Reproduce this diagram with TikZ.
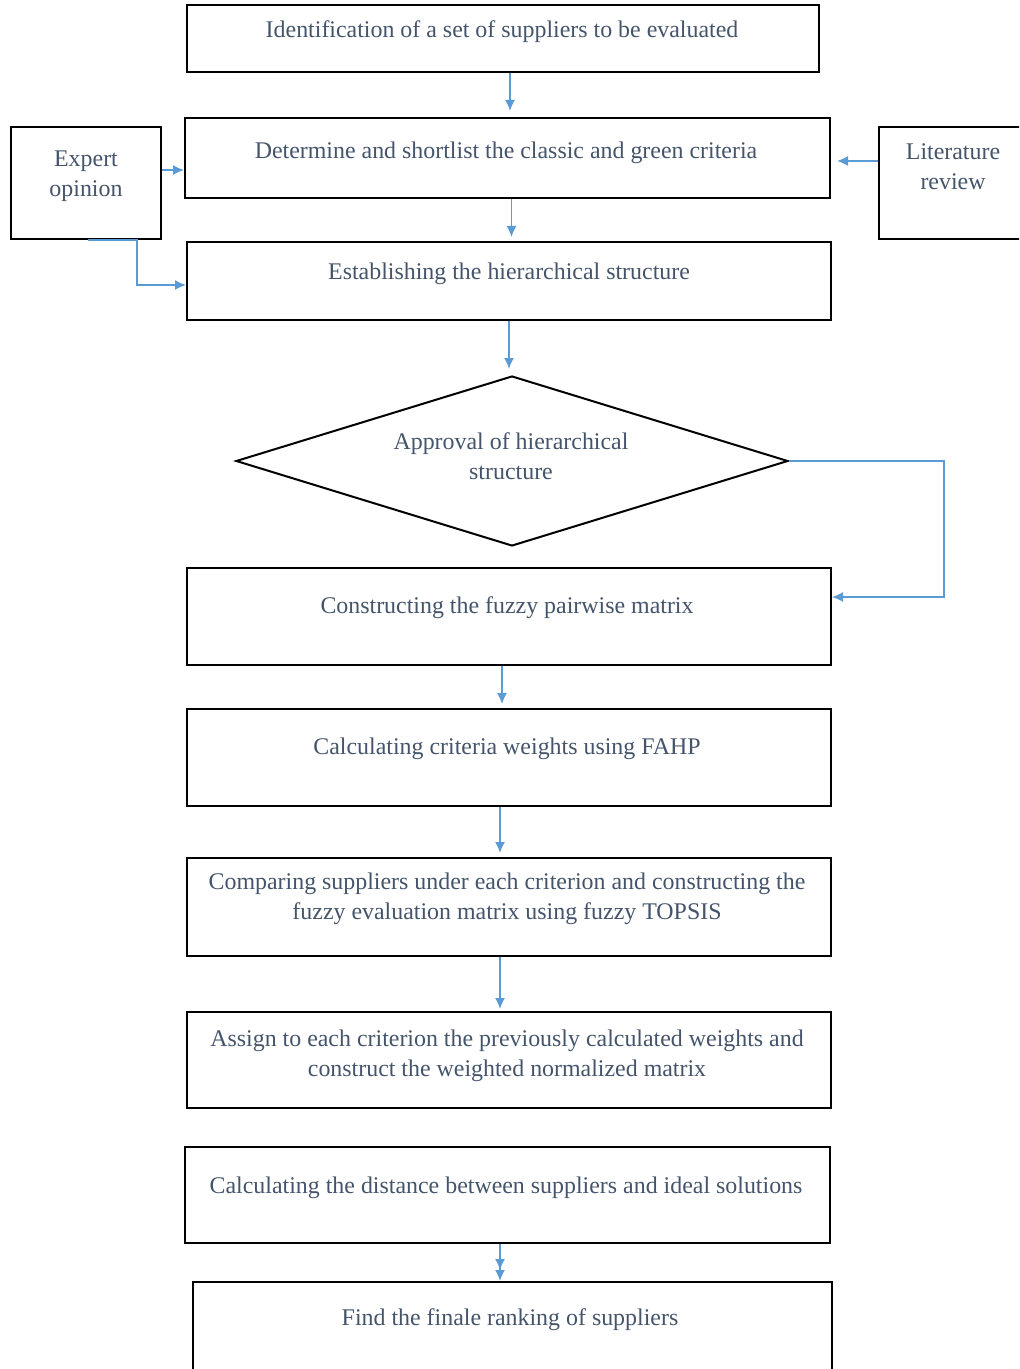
\documentclass[tikz,border=0pt]{standalone}
\usepackage{tikz}
\usepackage{fontspec}
\setmainfont{Liberation Serif}
\usetikzlibrary{arrows.meta, shapes.geometric, calc}

\definecolor{txtblue}{HTML}{44546A}
\definecolor{lineblue}{HTML}{5B9BD5}

\tikzset{
  box/.style={draw=black, line width=1pt, inner sep=0pt},
  txt/.style={text=txtblue, align=center, inner sep=0pt, font=\fontsize{11.95}{15}\selectfont},
  flow/.style={lineblue, line width=0.8pt, ->}
}

\begin{document}
\begin{tikzpicture}[x=0.5pt, y=-0.5pt, >={Latex[length=5.5pt,width=5pt]}]

\clip (0,0) rectangle (1019,1369);

% boxes
\node[box, minimum width=316pt, minimum height=33.5pt] (b1) at (503,38.5) {};
\node[box, minimum width=322.5pt, minimum height=40pt] (b2) at (507.5,158) {};
\node[box, minimum width=75pt, minimum height=56pt] (exp) at (86,183) {};
\node[box, minimum width=73pt, minimum height=56pt] (lit) at (952,183) {};
\node[box, minimum width=322pt, minimum height=39pt] (b3) at (509,281) {};
\node[box, diamond, minimum width=276pt, minimum height=85pt] (dia) at (512,461) {};
\node[box, minimum width=322pt, minimum height=48.5pt] (b4) at (509,616.5) {};
\node[box, minimum width=322pt, minimum height=48.5pt] (b5) at (509,757.5) {};
\node[box, minimum width=322pt, minimum height=49pt] (b6) at (509,907) {};
\node[box, minimum width=322pt, minimum height=48pt] (b7) at (509,1060) {};
\node[box, minimum width=322.5pt, minimum height=48pt] (b8) at (507.5,1195) {};
\node[box, minimum width=319.5pt, minimum height=49pt] (b9) at (512.5,1331) {};

% texts
\node[txt] (t1) at (502,31.5) {Identification of a set of suppliers to be evaluated};
\node[txt] (t2) at (506,152.5) {Determine and shortlist the classic and green criteria};
\node[txt] (texp) at (86,176.5) {Expert\\opinion};
\node[txt] (tlit) at (953,167) {Literature\\review};
\node[txt] (t3) at (509,273.5) {Establishing the hierarchical structure};
\node[txt] (tdia) at (511,456) {Approval of hierarchical\\structure};
\node[txt] (t4) at (507,607.5) {Constructing the fuzzy pairwise matrix};
\node[txt] (t5) at (507,748.5) {Calculating criteria weights using FAHP};
\node[txt] (t6) at (507,898.5) {Comparing suppliers under each criterion and constructing the\\fuzzy evaluation matrix using fuzzy TOPSIS};
\node[txt] (t7) at (507,1055.5) {Assign to each criterion the previously calculated weights and\\construct the weighted normalized matrix};
\node[txt] (t8) at (506,1187.5) {Calculating the distance between suppliers and ideal solutions};
\node[txt] (t9) at (510,1319.5) {Find the finale ranking of suppliers};

\coordinate (expA) at ([yshift=6.5pt]exp.east);
\coordinate (expB) at ([xshift=25.5pt]exp.south);
\coordinate (litA) at ([yshift=11pt]lit.west);

% connectors
\draw[flow] ([xshift=3.5pt]b1.south) -- ++(0,38);
\draw[flow] ([xshift=2pt]b2.south) -- ++(0,38);
\draw[flow] (expA) -- (expA -| b2.west);
\draw[flow] ([xshift=1pt]exp.south) -- (expB) |- ([yshift=-2pt]b3.west);
\draw[flow, shorten >=3pt] (litA) -- (litA -| b2.east);
\draw[flow, shorten >=3pt] (b3.south) -- (b3.south |- dia.north);
\draw[flow] (dia.east) -- ++(155,0) |- ([yshift=9.75pt]b4.east);
\draw[flow] ([xshift=-3.5pt]b4.south) -- ++(0,38);
\draw[flow] ([xshift=-4.5pt]b5.south) -- ++(0,46);
\draw[flow] ([xshift=-4.5pt]b6.south) -- ++(0,52);
\draw[flow, ->>] ([xshift=-3.75pt]b8.south) -- ++(0,37);

\end{tikzpicture}
\end{document}
